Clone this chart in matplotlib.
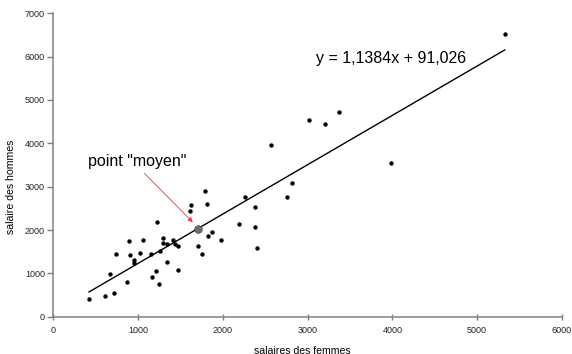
import numpy as np
import matplotlib
matplotlib.use('Agg')
import matplotlib.pyplot as plt

plt.rcParams['font.family'] = ['Liberation Sans', 'DejaVu Sans']

# salaires des femmes / salaires des hommes
sal_femmes = [422, 607, 717, 673, 741, 870, 894, 910, 957, 950,
              1024, 1060, 1158, 1170, 1212, 1229, 1245, 1264, 1292, 1292,
              1339, 1343, 1408, 1430, 1469, 1469, 1611, 1626, 1705, 1760,
              1792, 1811, 1831, 1870, 1981, 2189, 2260, 2374, 2374, 2398,
              2756, 2811, 2571, 3016, 3201, 3366, 3988, 5327]
sal_hommes = [408, 485, 547, 985, 1440, 794, 1747, 1431, 1301, 1239,
              1470, 1777, 1454, 923, 1062, 2193, 762, 1523, 1809, 1708,
              1685, 1262, 1770, 1677, 1639, 1078, 2447, 2578, 1625, 1454,
              2901, 2601, 1870, 1947, 1763, 2146, 2762, 2524, 2063, 1578,
              2762, 3078, 3955, 4547, 4454, 4724, 3540, 6517]

# regression y = a x + b and mean point
pente = 1.1384
ordonnee = 91.026
point_moyen = (1705, 2032)
equation = 'y = 1,1384x + 91,026'

x_ticks = [0, 1000, 2000, 3000, 4000, 5000, 6000]
y_ticks = [0, 1000, 2000, 3000, 4000, 5000, 6000, 7000]

fig = plt.figure(figsize=(5.72, 3.54), dpi=100)
ax = fig.add_axes([0.0932, 0.1054, 0.889, 0.857])

ax.scatter(sal_femmes, sal_hommes, s=10, color='black', zorder=3, linewidths=0)

xl = np.array([min(sal_femmes), max(sal_femmes)])
ax.plot(xl, pente * xl + ordonnee, color='black', lw=1.0, zorder=2)

ax.scatter([point_moyen[0]], [point_moyen[1]], s=30, color='#6e6e6e',
           edgecolors='#444444', linewidths=0.5, zorder=4)

ax.annotate('', xy=(1646, 2178), xytext=(1075, 3308),
            arrowprops=dict(arrowstyle='-|>', color='#ff3030', lw=0.6,
                            mutation_scale=7, shrinkA=0, shrinkB=0))
ax.text(410, 3577, 'point "moyen"', fontsize=11.5, va='center', ha='left')
ax.text(3099, 5963, equation, fontsize=11.5, va='center', ha='left')

ax.set_xlim(0, 6000)
ax.set_ylim(0, 7000)
ax.set_xticks(x_ticks)
ax.set_yticks(y_ticks)
ax.tick_params(labelsize=6.5, colors='#222222')
ax.tick_params(axis='y', direction='out', length=4, width=1, color='#808080', pad=2)
ax.tick_params(axis='x', direction='inout', length=4, width=1, color='#808080', pad=5)

for side in ['top', 'right']:
    ax.spines[side].set_visible(False)
for side in ['left', 'bottom']:
    ax.spines[side].set_color('#808080')
    ax.spines[side].set_linewidth(1.1)

ax.set_xlabel('salaires des femmes', fontsize=7.6)
ax.set_ylabel('salaire des hommes', fontsize=7.6)
ax.xaxis.set_label_coords(0.49, -0.095)
ax.yaxis.set_label_coords(-0.073, 0.428)

fig.savefig('out.png', dpi=100)
